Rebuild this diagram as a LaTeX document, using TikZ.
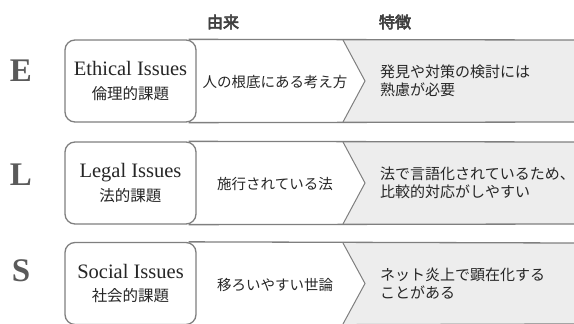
\documentclass[tikz,border=0pt]{standalone}
\usepackage{fontspec}
\setmainfont{Liberation Serif}
\newfontfamily\jp{Noto Sans CJK JP}
\newfontfamily\jpb{Noto Sans CJK JP}[FakeBold=4]
\definecolor{linegray}{HTML}{7F7F7F}
\definecolor{fillgray}{HTML}{EDEDED}
\definecolor{lettergray}{HTML}{5A5A5A}
\definecolor{headgray}{HTML}{404040}
\definecolor{txt}{HTML}{262626}
\tikzset{
  issue/.style={draw=linegray, line width=1.3pt, rounded corners=10pt, fill=white,
    minimum width=131pt, minimum height=82pt, inner sep=0pt, align=center, text=txt,
    font=\fontsize{20.5}{23.5}\selectfont},
  band/.style={draw=linegray, line width=1.3pt},
  chevfill/.style={fill=fillgray},
  chevline/.style={draw=linegray, line width=1pt},
  origin/.style={font=\jp\fontsize{14.5}{17}\selectfont, text=txt, inner sep=0pt},
  feature/.style={font=\jp\fontsize{15}{18}\selectfont, text=txt, align=left, anchor=west, inner sep=0pt},
  header/.style={font=\jpb\fontsize{16}{18}\selectfont, text=headgray},
  letter/.style={font=\bfseries\fontsize{33}{36}\selectfont, text=lettergray},
}
\newcommand{\ja}[1]{{\jp\fontsize{15.5}{23.5}\selectfont #1}}
\begin{document}
\begin{tikzpicture}[x=1pt,y=-1pt]
\useasboundingbox (0,0) rectangle (574,324);
% headers
\node[header] (h1) at (223,22) {由来};
\node[header] (h2) at (395,22) {特徴};
% row geometry
\foreach \r/\T/\B in {1/40/122, 2/142/224, 3/243/324}{
  \pgfmathsetmacro{\M}{(\T+\B)/2}
  \coordinate (t\r) at (574,\T);
  \coordinate (u\r) at (574,\B);
  \coordinate (ca\r) at (343,\T);
  \coordinate (cm\r) at (365,\M);
  \coordinate (cb\r) at (343,\B);
  \fill[chevfill] (ca\r) -- (cm\r) -- (cb\r) -- (u\r) -- (t\r) -- cycle;
  \draw[chevline] (ca\r) -- (cm\r) -- (cb\r);
}
% boxes
\node[issue] (b1) at (130.5,81) {Ethical Issues\\\ja{倫理的課題}};
\node[issue] (b2) at (130.5,183) {Legal Issues\\\ja{法的課題}};
\node[issue] (b3) at (130.5,283.5) {Social Issues\\\ja{社会的課題}};
\foreach \r in {1,2,3}{
  \draw[band] ([xshift=-8pt]b\r.north east) -- (t\r);
  \draw[band] ([xshift=-8pt]b\r.south east) -- (u\r);
}
% letters
\node[letter] (lE) at (21,71) {E};
\node[letter] (lL) at (21,175) {L};
\node[letter] (lS) at (21,271) {S};
% origins
\node[origin] (o1) at (275,82) {人の根底にある考え方};
\node[origin] (o2) at (275,184) {施行されている法};
\node[origin] (o3) at (275,285) {移ろいやすい世論};
% features
\node[feature] (f1) at (380,81) {発見や対策の検討には\\熟慮が必要};
\node[feature] (f2) at (380,183) {法で言語化されているため、\\比較的対応がしやすい};
\node[feature] (f3) at (380,284) {ネット炎上で顕在化する\\ことがある};
\end{tikzpicture}
\end{document}
